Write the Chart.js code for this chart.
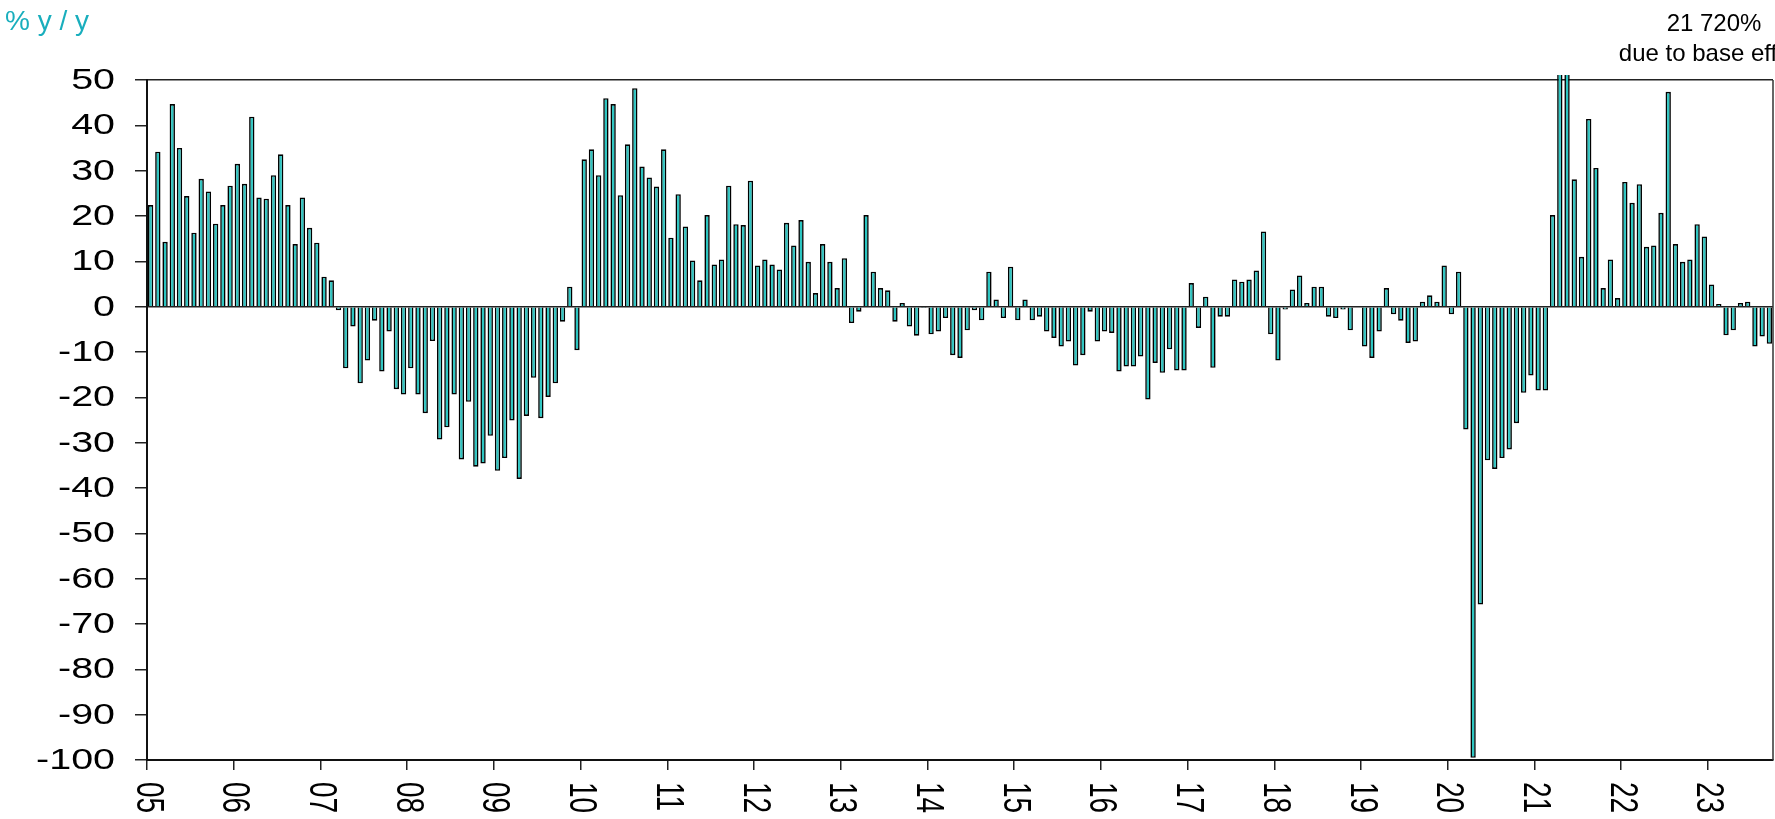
<!DOCTYPE html>
<html>
<head>
<meta charset="utf-8">
<script src="https://cdn.jsdelivr.net/npm/chart.js@4.4.1/dist/chart.umd.min.js"></script>
<style>
  html, body { margin: 0; padding: 0; background: #fff; }
  #wrap { width: 1775px; height: 819px; }
</style>
</head>
<body>
<div id="wrap"><canvas id="chart" width="1775" height="819"></canvas></div>
<script>
// Monthly % y/y, Jan 2005 .. Sep 2023
const YEAR_LABELS = ['05','06','07','08','09','10','11','12','13','14','15','16','17','18','19','20','21','22','23'];

const y2005 = [22.4, 34.2, 14.3, 44.7, 35.0, 24.4, 16.3, 28.2, 25.4, 18.3, 22.4, 26.7];
const y2006 = [31.5, 27.1, 41.9, 24.1, 23.8, 29.0, 33.6, 22.4, 13.8, 24.1, 17.4, 14.1];
const y2007 = [6.6, 5.8, -0.8, -13.6, -4.4, -16.9, -11.9, -3.1, -14.3, -5.5, -18.2, -19.4];
const y2008 = [-13.6, -19.4, -23.5, -7.6, -29.3, -26.6, -19.4, -33.7, -21.0, -35.3, -34.6, -28.5];
const y2009 = [-36.2, -33.4, -25.1, -38.0, -24.1, -15.7, -24.6, -19.9, -16.9, -3.3, 4.4, -9.6];
const y2010 = [32.5, 34.7, 29.0, 46.0, 44.7, 24.6, 35.8, 48.2, 30.9, 28.5, 26.5, 34.7];
const y2011 = [15.2, 24.8, 17.7, 10.2, 5.8, 20.2, 9.3, 10.4, 26.7, 18.2, 18.0, 27.8];
const y2012 = [9.1, 10.4, 9.3, 8.2, 18.5, 13.5, 19.1, 9.9, 3.0, 13.8, 9.9, 4.1];
const y2013 = [10.7, -3.6, -1.1, 20.2, 7.7, 4.1, 3.6, -3.3, 0.8, -4.4, -6.4, -0.3];
const y2014 = [-6.1, -5.5, -2.5, -10.7, -11.3, -5.2, -0.8, -3.0, 7.7, 1.6, -2.5, 8.8];
const y2015 = [-3.0, 1.6, -3.0, -2.2, -5.5, -6.9, -8.8, -7.7, -13.0, -10.7, -1.1, -7.7];
const y2016 = [-5.5, -5.8, -14.3, -13.2, -13.2, -11.0, -20.5, -12.4, -14.6, -9.4, -14.1, -14.1];
const y2017 = [5.2, -4.7, 2.2, -13.5, -2.2, -2.2, 6.0, 5.5, 6.0, 8.0, 16.6, -6.1];
const y2018 = [-11.9, -0.6, 3.8, 6.9, 0.8, 4.4, 4.4, -2.2, -2.5, -0.6, -5.2, 0.0];
const y2019 = [-8.8, -11.3, -5.5, 4.1, -1.7, -3.1, -8.0, -7.7, 1.1, 2.5, 1.1, 9.1];
const y2020 = [-1.7, 7.7, -27.1, -99.5, -65.7, -33.9, -35.8, -33.4, -31.5, -25.7, -19.0, -15.2];
const y2021 = [-18.5, -18.5, 20.2, 21720, 150, 28.1, 11.0, 41.4, 30.6, 4.1, 10.4, 1.9];
const y2022 = [27.5, 22.9, 27.0, 13.2, 13.5, 20.7, 47.4, 13.8, 9.9, 10.4, 18.2, 15.5];
const y2023 = [4.9, 0.6, -6.3, -5.2, 0.8, 1.1, -8.8, -6.6, -8.2];

const SERIES = [].concat(y2005, y2006, y2007, y2008, y2009, y2010, y2011, y2012, y2013,
  y2014, y2015, y2016, y2017, y2018, y2019, y2020, y2021, y2022, y2023);
const LABELS = SERIES.map((v, i) => YEAR_LABELS[Math.floor(i / 12)] + '-' + String(i % 12 + 1).padStart(2, '0'));

const TEAL = '#19aebd';
const BAR = '#2cc5c1';
const FONT = 'Liberation Sans, Arial, sans-serif';
const STRETCH = 1.36; // tick labels in the source are drawn wide

// tick labels (stretched), titles, right frame line
const decor = {
  id: 'decor',
  afterDraw(chart) {
    const { ctx, chartArea: a, scales: { x, y } } = chart;
    const half = (x.getPixelForValue(1) - x.getPixelForValue(0)) / 2;
    ctx.save();
    ctx.strokeStyle = '#333';
    ctx.lineWidth = 1.5;
    ctx.beginPath();
    ctx.moveTo(a.right, a.top);
    ctx.lineTo(a.right, a.bottom);
    ctx.stroke();

    ctx.fillStyle = '#000';
    ctx.font = '29px ' + FONT;
    ctx.textAlign = 'right';
    ctx.textBaseline = 'middle';
    y.ticks.forEach(t => {
      ctx.save();
      ctx.translate(a.left - 32, y.getPixelForValue(t.value));
      ctx.scale(STRETCH, 1);
      ctx.fillText(String(t.value), 0, 1);
      ctx.restore();
    });

    ctx.font = '28px ' + FONT;
    ctx.textAlign = 'left';
    YEAR_LABELS.forEach((lab, k) => {
      const px = x.getPixelForValue(k * 12) - half;
      ctx.save();
      ctx.translate(px, a.bottom + 22);
      ctx.scale(STRETCH, 1);
      ctx.rotate(Math.PI / 2);
      ctx.fillText(lab, 0, 0);
      ctx.restore();
    });

    ctx.textBaseline = 'alphabetic';
    ctx.fillStyle = TEAL;
    ctx.font = '28px ' + FONT;
    ctx.fillText('% y / y', 5, 30);

    ctx.fillStyle = '#000';
    ctx.font = '24px ' + FONT;
    ctx.textAlign = 'center';
    ctx.fillText('21 720%', 1714, 31);
    ctx.fillText('due to base effect', 1714, 61);
    ctx.restore();
  }
};

new Chart(document.getElementById('chart'), {
  type: 'bar',
  data: {
    labels: LABELS,
    datasets: [{
      data: SERIES,
      backgroundColor: BAR,
      borderColor: '#000',
      borderWidth: 1.6,
      categoryPercentage: 1,
      barPercentage: 0.74,
      clip: { left: 0, right: 0, top: 5, bottom: 0 },
    }],
  },
  options: {
    responsive: false, animation: false,
    layout: { padding: { top: 80, right: 2, bottom: 0, left: 0 } },
    plugins: { legend: { display: false }, tooltip: { enabled: false } },
    scales: {
      x: {
        ticks: { display: false },
        grid: {
          offset: true, drawOnChartArea: false, tickLength: 10, lineWidth: 1.5,
          color: c => c.index % 12 === 0 ? '#222' : 'rgba(0,0,0,0)',
        },
        border: { display: true, color: '#111', width: 2 },
        afterFit: s => { s.height = 59; },
      },
      y: {
        min: -100, max: 50, z: 1,
        ticks: { stepSize: 10, display: false },
        grid: {
          tickLength: 12, lineWidth: 1.5, tickColor: '#222',
          color: c => (c.tick.value === 0 || c.tick.value === 50) ? '#222' : 'rgba(0,0,0,0)',
        },
        border: { color: '#111', width: 2 },
        afterFit: s => { s.width = 147; },
      },
    },
  },
  plugins: [decor],
});
</script>
</body>
</html>
